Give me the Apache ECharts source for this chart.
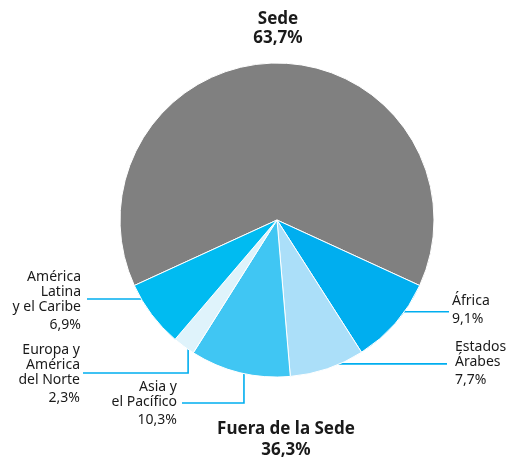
<!DOCTYPE html>
<html>
<head>
<meta charset="utf-8">
<script src="https://cdn.jsdelivr.net/npm/echarts@6/dist/echarts.min.js"></script>
<style>
html,body{margin:0;padding:0;background:#fff;}
#chart{width:510px;height:458px;}
</style>
</head>
<body>
<div id="chart"></div>
<script>
// ---- data ----
const categories = ['Sede', 'África', 'Estados\nÁrabes', 'Asia y\nel Pacífico', 'Europa y\nAmérica\ndel Norte', 'América\nLatina\ny el Caribe'];
const shares = [63.7, 9.1, 7.7, 10.3, 2.3, 6.9];
const groupTitle = 'Fuera de la Sede';

// ---- styles / layout ----
const FONT = 'Noto Sans';
const colors = ['#808080', '#00aeef', '#abdff9', '#40c6f3', '#dff3fb', '#00bbf1'];
const lineColor = '#00aeef';
const CX = 277, CY = 220, R = 157;
const START = 90 + shares[0] * 3.6 / 2;
const placement = [
  {x: 278, y: 10, align: 'center'},
  {x: 452, y: 294, align: 'left', frac: 0.89, da: 0, route: 'h', endX: 449},
  {x: 455, y: 340, align: 'left', frac: 0.95, da: -3.5, route: 'h', endX: 447},
  {x: 177, y: 380, align: 'right', frac: 0.89, da: 0, route: 'elbow', elbowY: 403, endX: 182},
  {x: 80, y: 343, align: 'right', frac: 0.955, da: 0, route: 'elbow', elbowY: 373, endX: 83},
  {x: 81, y: 270, align: 'right', frac: 0.905, da: -3.3, route: 'h', endX: 87}
];

const fmt = v => v.toFixed(1).replace('.', ',') + '%';

function midAngle(i) {
  let cum = 0;
  for (let k = 0; k < i; k++) cum += shares[k];
  const total = shares.reduce((a, b) => a + b, 0);
  return (START - (cum + shares[i] / 2) / total * 360) * Math.PI / 180;
}

const outside = shares.slice(1).reduce((a, b) => a + b, 0);

const chart = echarts.init(document.getElementById('chart'));
chart.setOption({
  animation: false,
  title: {
    text: groupTitle + '\n' + fmt(outside),
    left: 286, top: 419, textAlign: 'center', padding: 0,
    textStyle: {fontFamily: FONT, fontSize: 17, fontWeight: 'bold', color: '#1a1a1a', lineHeight: 20.5}
  },
  series: [{
    type: 'pie',
    center: [CX, CY],
    radius: R,
    startAngle: START,
    clockwise: true,
    avoidLabelOverlap: false,
    itemStyle: {borderColor: '#ffffff', borderWidth: 1},
    data: categories.map((c, i) => ({
      name: c, value: shares[i],
      itemStyle: {color: colors[i]},
      labelLine: {show: i > 0}
    })),
    label: {
      show: true,
      position: 'outside',
      fontFamily: FONT,
      formatter: p => {
        if (p.dataIndex === 0) {
          return '{b|' + p.name + '}\n{b|' + fmt(p.value) + '}';
        }
        return p.name.split('\n').map(l => '{n|' + l + '}').join('\n') + '\n{p|' + fmt(p.value) + '}';
      },
      rich: {
        n: {fontFamily: FONT, fontSize: 14, color: '#1a1a1a', lineHeight: 15},
        p: {fontFamily: FONT, fontSize: 14, color: '#1a1a1a', lineHeight: 21},
        b: {fontFamily: FONT, fontSize: 17, fontWeight: 'bold', color: '#1a1a1a', lineHeight: 18.5}
      }
    },
    labelLine: {show: true, lineStyle: {color: lineColor, width: 1.6}},
    labelLayout: function (params) {
      const i = params.dataIndex;
      const pl = placement[i];
      const out = {x: pl.x, y: pl.y, align: pl.align, verticalAlign: 'top'};
      if (i > 0) {
        const a = midAngle(i) + pl.da * Math.PI / 180;
        const sx = CX + pl.frac * R * Math.cos(a);
        const sy = CY - pl.frac * R * Math.sin(a);
        if (pl.route === 'h') {
          out.labelLinePoints = [[sx, sy], [(sx + pl.endX) / 2, sy], [pl.endX, sy]];
        } else {
          out.labelLinePoints = [[sx, sy], [sx, pl.elbowY], [pl.endX, pl.elbowY]];
        }
      }
      return out;
    }
  }]
});
</script>
</body>
</html>
